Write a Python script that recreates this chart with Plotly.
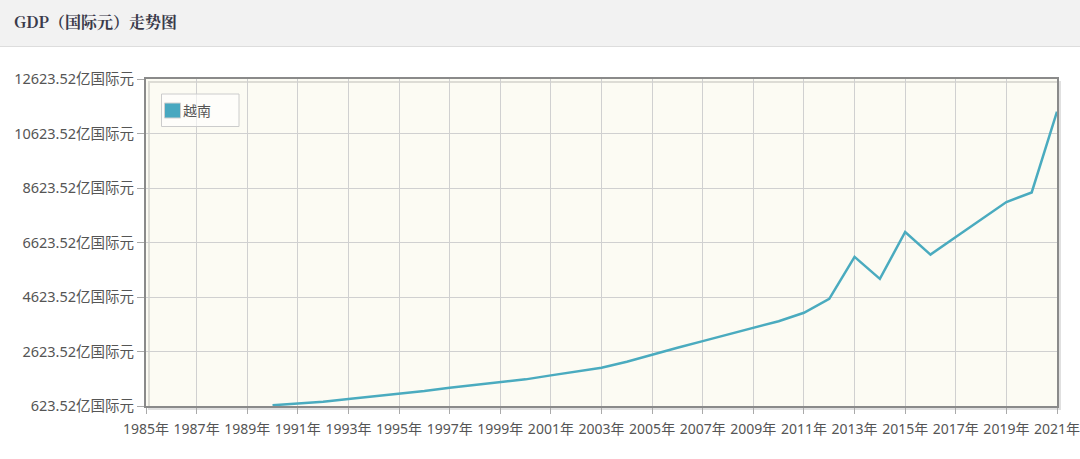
import plotly.graph_objects as go

years = list(range(1990, 2022))
gdp = [650, 711, 784, 880, 979, 1055, 1172, 1297, 1392, 1480, 1601, 1747, 1883, 2029, 2249, 2516,
       2762, 3003, 3249, 3494, 3736, 4044, 4556, 6094, 5289, 7010, 6179, 6827, 7460, 8108, 8460, 11426]
series_name = "越南"
tick_years = list(range(1985, 2022, 2))
tick_year_labels = [f"{y}年" for y in tick_years]
y_ticks = [623.52 + 2000 * i for i in range(7)]
y_tick_labels = [f"{v:.2f}亿国际元" for v in y_ticks]
title_text = "GDP（国际元）走势图"

W, H = 1080, 459
L, R, T, B = 146, 1057, 79, 406
pw, ph = R - L, B - T

def px(x):
    return (x - L) / pw

def py(y):
    return (B - y) / ph

line_color = "#4aabbf"
font_family = "Noto Sans, Noto Sans CJK SC, sans-serif"

fig = go.Figure()
fig.add_trace(go.Scatter(x=years, y=gdp, mode="lines", name=series_name,
                         line=dict(color=line_color, width=2.5), showlegend=False,
                         cliponaxis=True))

shapes = [
    # header band
    dict(type="rect", xref="paper", yref="paper", x0=px(0), x1=px(W), y0=py(46), y1=py(0),
         fillcolor="#f2f2f2", line=dict(width=0), layer="below"),
    dict(type="line", xref="paper", yref="paper", x0=px(0), x1=px(W), y0=py(46.5), y1=py(46.5),
         line=dict(color="#dddddd", width=1)),
    # shadow of plot frame
    dict(type="rect", xref="paper", yref="paper", x0=px(L + 3), x1=px(R + 3), y0=py(B + 3), y1=py(T + 3),
         fillcolor="rgba(0,0,0,0)", line=dict(color="rgba(0,0,0,0.12)", width=2), layer="below"),
    # legend box
    dict(type="rect", xref="paper", yref="paper", x0=px(161.5), x1=px(239), y0=py(126.5), y1=py(94),
         fillcolor="rgba(255,255,255,0.6)", line=dict(color="#cccccc", width=1)),
    dict(type="rect", xref="paper", yref="paper", x0=px(164.5), x1=px(180.5), y0=py(118), y1=py(103),
         fillcolor="#48a8c0", line=dict(color="#d0d0d0", width=1)),
]

annotations = [
    dict(text="<b>" + title_text + "</b>", xref="paper", yref="paper", x=px(12), y=py(22),
         xanchor="left", yanchor="middle", showarrow=False,
         font=dict(family="Noto Serif CJK SC, Noto Sans CJK SC, serif", size=16, color="#3a3a4a")),
    dict(text=series_name, xref="paper", yref="paper", x=px(181), y=py(110),
         xanchor="left", yanchor="middle", showarrow=False,
         font=dict(family=font_family, size=14, color="#555555")),
]

fig.update_layout(
    width=W, height=H,
    margin=dict(l=L, r=W - R, t=T, b=H - B, pad=0, autoexpand=False),
    paper_bgcolor="white", plot_bgcolor="#fcfbf3",
    shapes=shapes, annotations=annotations, showlegend=False,
    font=dict(family=font_family, size=14, color="#555555"),
)
fig.update_xaxes(range=[1985, 2021], tickvals=tick_years, ticktext=tick_year_labels,
                 showgrid=True, gridcolor="#d0d0d0", gridwidth=1,
                 showline=True, linecolor="#8a8a8a", linewidth=2, mirror=True,
                 ticks="outside", ticklen=6, tickcolor="#aaaaaa", zeroline=False,
                 ticklabeloverflow="allow", automargin=False, ticklabelstandoff=3,
                 tickfont=dict(size=14, color="#555555"))
fig.update_yaxes(range=[623.52, 12623.52], tickvals=y_ticks, ticktext=y_tick_labels,
                 showgrid=True, gridcolor="#d0d0d0", gridwidth=1,
                 showline=True, linecolor="#8a8a8a", linewidth=2, mirror=True,
                 ticks="outside", ticklen=7, tickcolor="#aaaaaa", zeroline=False,
                 ticklabeloverflow="allow", automargin=False,
                 tickfont=dict(size=14.5, color="#555555"))

fig.write_html("out.html",
               config={"displayModeBar": False},
               post_script="document.body.style.margin='0';document.body.style.overflow='hidden';")
